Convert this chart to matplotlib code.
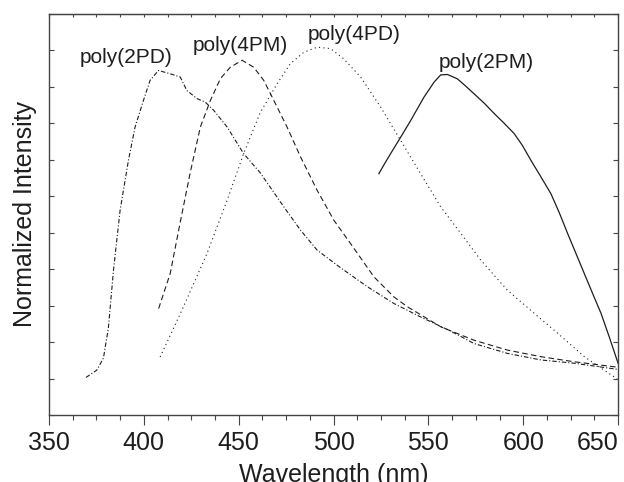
import matplotlib
matplotlib.use("Agg")
import matplotlib.pyplot as plt
import numpy as np

plt.rcParams['font.family'] = ['Liberation Sans', 'DejaVu Sans']

# poly(2PD), dash-dot
wl_2pd = [369.5, 375.2, 378.7, 381.3, 384.0, 387.5, 391.9, 395.4, 399.8, 403.3,
          407.7, 413.9, 419.2, 422.7, 428.0, 432.4, 436.8, 443.9, 452.6, 461.4,
          473.8, 482.6, 491.4, 503.7, 517.8, 531.8, 545.9, 561.8, 574.1, 591.7,
          609.3, 626.9, 650.0]
in_2pd = [0.103, 0.123, 0.156, 0.238, 0.397, 0.562, 0.699, 0.790, 0.863, 0.918,
          0.945, 0.936, 0.927, 0.890, 0.868, 0.858, 0.836, 0.790, 0.717, 0.664,
          0.571, 0.507, 0.452, 0.404, 0.352, 0.306, 0.269, 0.230, 0.196, 0.169,
          0.151, 0.142, 0.125]

# poly(4PM), dashed
wl_4pm = [407.8, 413.9, 419.2, 424.5, 429.8, 435.1, 440.4, 445.6, 451.8, 457.9,
          463.2, 468.5, 475.5, 482.6, 491.4, 500.2, 509.0, 521.3, 531.8, 538.9,
          556.5, 574.1, 591.7, 609.3, 626.9, 650.0]
in_4pm = [0.292, 0.388, 0.529, 0.666, 0.790, 0.863, 0.923, 0.954, 0.973, 0.954,
          0.918, 0.863, 0.790, 0.708, 0.616, 0.534, 0.470, 0.379, 0.324, 0.297,
          0.242, 0.205, 0.178, 0.160, 0.146, 0.131]

# poly(4PD), dotted
wl_4pd = [408.6, 420.9, 433.3, 443.9, 452.6, 461.4, 470.3, 477.3, 484.3, 491.4,
          498.4, 505.4, 514.3, 524.8, 535.4, 545.9, 556.5, 567.1, 577.6, 591.7,
          605.8, 618.2, 632.2, 649.5]
in_4pd = [0.159, 0.297, 0.443, 0.589, 0.717, 0.830, 0.909, 0.964, 0.995, 1.009,
          1.005, 0.977, 0.927, 0.845, 0.753, 0.662, 0.571, 0.498, 0.425, 0.342,
          0.279, 0.224, 0.160, 0.099]

# poly(2PM), solid
wl_2pm = [523.9, 527.0, 530.1, 535.4, 540.7, 547.7, 553.0, 556.5, 560.1, 565.3,
          569.5, 574.1, 579.5, 584.7, 590.0, 595.2, 599.5, 604.0, 609.0, 614.6,
          619.0, 623.4, 627.8, 632.2, 636.6, 641.0, 645.5, 650.0]
in_2pm = [0.662, 0.690, 0.717, 0.762, 0.808, 0.872, 0.913, 0.933, 0.934, 0.922,
          0.903, 0.881, 0.855, 0.827, 0.800, 0.772, 0.740, 0.699, 0.656, 0.607,
          0.555, 0.498, 0.443, 0.388, 0.333, 0.279, 0.212, 0.142]

labels = ['poly(2PD)', 'poly(4PM)', 'poly(4PD)', 'poly(2PM)']
label_x = [390.7, 450.9, 511.1, 580.3]
label_y = [0.981, 1.014, 1.044, 0.967]

ink = '#1e1e1e'
fig = plt.figure(figsize=(6.24, 4.82), dpi=100)
ax = fig.add_axes([0.0785, 0.139, 0.912, 0.832])

ax.plot(wl_2pd, in_2pd, color=ink, lw=0.8, dashes=(4, 1.8, 1, 1.8))
ax.plot(wl_4pm, in_4pm, color=ink, lw=0.8, dashes=(5, 3))
ax.plot(wl_4pd, in_4pd, color=ink, lw=0.8, dashes=(1, 3))
ax.plot(wl_2pm, in_2pm, color=ink, lw=0.9)

for txt, x, y in zip(labels, label_x, label_y):
    ax.text(x, y, txt, fontsize=15, color=ink, ha='center', va='center')

ax.set_xlim(350, 650)
ax.set_ylim(0, 1.1)
ax.set_xticks(np.arange(350, 651, 50))
ax.set_xticks(np.arange(350, 651, 12.5), minor=True)
ax.set_yticks(np.arange(0, 1.11, 0.1))
ax.set_yticklabels([])
ax.tick_params(axis='x', which='major', direction='out', length=7.5, width=0.8,
               labelsize=18, pad=4, colors='#444', labelcolor=ink)
ax.tick_params(axis='x', which='minor', direction='out', length=3.8, width=0.8, colors='#444')
ax.tick_params(axis='y', direction='in', length=3.5, width=0.8, left=True, right=True, colors='#444')
ax.get_xticklabels()[-1].set_horizontalalignment('right')

top = ax.secondary_xaxis('top')
top.set_xticks(np.arange(350, 651, 12.5))
top.set_xticklabels([])
top.tick_params(direction='in', length=2, width=0.8, colors='#444')
top.spines['top'].set_color('#444')

for s in ax.spines.values():
    s.set_color('#444')
    s.set_linewidth(1.0)

ax.set_xlabel('Wavelength (nm)', fontsize=18, color=ink, labelpad=6)
ax.set_ylabel('Normalized Intensity', fontsize=18, color=ink, labelpad=5)

fig.savefig('out.png', dpi=100)
